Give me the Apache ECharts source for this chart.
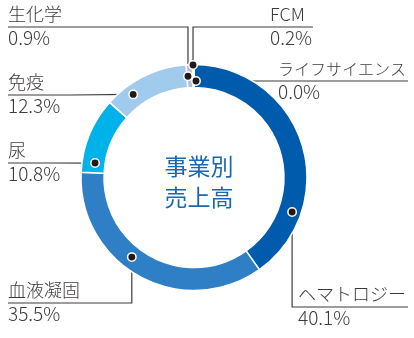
<!DOCTYPE html>
<html>
<head>
<meta charset="utf-8">
<script src="https://cdn.jsdelivr.net/npm/echarts@6/dist/echarts.min.js"></script>
<style>
  html, body { margin: 0; padding: 0; background: #fff; }
  #chart { width: 414px; height: 338px; }
</style>
</head>
<body>
<div id="chart"></div>
<script>
// Sales share by business segment (%)
const categories = ['ヘマトロジー', '血液凝固', '尿', '免疫', '生化学', 'FCM', 'ライフサイエンス'];
const shares = [40.1, 35.5, 10.8, 12.3, 0.9, 0.2, 0.0];
const sliceColors = ['#005bac', '#2f7fc6', '#00b2ea', '#a0cbed', '#b6bae2', '#8c98d4', '#005bac'];
const centerTitle = '事業別\n売上高';

// Ring geometry
const CX = 194, CY = 177.5, R_IN = 90, R_OUT = 113;

// Leader-line callouts: where the dot sits on the ring (angle clockwise from top, radius),
// where the line bends / ends, where the text block starts, and the name's font size.
const callouts = [
  { ang: 109.4, r: 104,   bendY: 307, endX: 408, textX: 298, nameSize: 18 },
  { ang: 218.0, r: 101,   bendY: 303, endX: 8,   textX: 8,   nameSize: 18 },
  { ang: 278.3, r: 100,   bendY: null, endX: 8,  textX: 8,   nameSize: 18, lineY: 163 },
  { ang: 323.8, r: 103,   bendY: null, endX: 8,  textX: 8,   nameSize: 18, lineY: 95 },
  { ang: 356.6, r: 101.5, bendY: 27,  endX: 8,   textX: 8,   nameSize: 18 },
  { ang: 359.5, r: 112.5, bendY: 27,  endX: 313, textX: 270, nameSize: 18 },
  { ang: 1.2,   r: 96.5,  bendY: null, endX: 408, textX: 278, nameSize: 16, lineY: 81 }
];

function dotPos(c) {
  const a = c.ang * Math.PI / 180;
  return [CX + c.r * Math.sin(a), CY - c.r * Math.cos(a)];
}

function leader(i) {
  const c = callouts[i];
  const p = dotPos(c);
  if (c.bendY !== null) {
    return { pts: [p, [p[0], c.bendY], [c.endX, c.bendY]], y: c.bendY };
  }
  const y = c.lineY;
  return { pts: [p, [(p[0] + c.endX) / 2, y], [c.endX, y]], y: y };
}

const chart = echarts.init(document.getElementById('chart'), null, { renderer: 'canvas' });

const textColor = '#3e3a39';
const fontFamily = '"Noto Sans CJK JP", "Noto Sans", sans-serif';

chart.setOption({
  animation: false,
  backgroundColor: '#ffffff',
  title: {
    text: centerTitle,
    left: CX,
    top: 146,
    textAlign: 'center',
    textStyle: {
      color: '#1b66b3',
      fontSize: 23,
      lineHeight: 31,
      fontWeight: 'normal',
      fontFamily: fontFamily
    }
  },
  series: [{
    type: 'pie',
    center: [CX, CY],
    radius: [R_IN, R_OUT],
    startAngle: 90,
    clockwise: true,
    avoidLabelOverlap: false,
    silent: true,
    itemStyle: { borderColor: '#ffffff', borderWidth: 1.5 },
    label: {
      show: true,
      position: 'outside',
      formatter: p => {
        const tag = callouts[p.dataIndex].nameSize === 16 ? 'ns' : 'n';
        return '{' + tag + '|' + p.name + '}\n{p|' + p.value.toFixed(1) + '%}';
      },
      rich: {
        n: { fontSize: 18, lineHeight: 26, color: textColor, fontFamily: fontFamily, fontWeight: 300 },
        ns: { fontSize: 16, lineHeight: 24, color: textColor, fontFamily: fontFamily, fontWeight: 300 },
        p: { fontSize: 19, lineHeight: 22, color: textColor, fontFamily: fontFamily, fontWeight: 300 }
      }
    },
    labelLine: {
      show: true,
      lineStyle: { color: textColor, width: 1.2 }
    },
    labelLayout: params => {
      const i = params.dataIndex;
      const l = leader(i);
      const nameBox = callouts[i].nameSize === 16 ? 24 : 26;
      return {
        x: callouts[i].textX,
        y: l.y - nameBox,
        align: 'left',
        verticalAlign: 'top',
        labelLinePoints: l.pts
      };
    },
    data: categories.map((name, i) => ({
      name: name,
      value: shares[i],
      itemStyle: { color: sliceColors[i] }
    }))
  }],
  graphic: callouts.map(c => {
    const p = dotPos(c);
    return {
      type: 'circle',
      z: 100,
      shape: { cx: p[0], cy: p[1], r: 4.2 },
      style: { fill: '#231815', stroke: '#ffffff', lineWidth: 1.5 }
    };
  })
});
</script>
</body>
</html>
